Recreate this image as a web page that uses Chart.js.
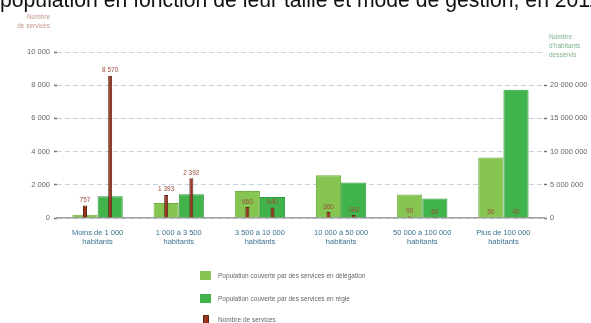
<!DOCTYPE html>
<html>
<head>
<meta charset="utf-8">
<script src="https://cdn.jsdelivr.net/npm/chart.js@4"></script>
<style>
  html, body { margin: 0; padding: 0; background: #fff; }
  #wrap { position: relative; width: 591px; height: 323px; overflow: hidden; font-family: 'Liberation Sans Narrow', 'Liberation Sans', sans-serif; }
  #wrap canvas { position: absolute; left: 0; top: 0; }
  .title { position: absolute; left: 0; top: -12px; font-family: 'Liberation Sans', Arial, sans-serif; font-size: 21.2px; color: #111; white-space: nowrap; }
  .axt { position: absolute; font-size: 6.5px; line-height: 9px; white-space: nowrap; }
  .leg { position: absolute; left: 200px; font-size: 6.5px; color: #666; }
  .leg span.sw { position: absolute; left: 0; top: 0; width: 11px; height: 9px; }
  .leg span.tx { position: absolute; left: 18px; top: 0; white-space: nowrap; line-height: 9px; }
</style>
</head>
<body>
<div id="wrap">
  <canvas id="statChart"></canvas>
  <div class="title">population en fonction de leur taille et mode de gestion, en 2011</div>
  <div class="axt" style="left:10px;top:12px;color:#c49a8c;text-align:right;width:40px">Nombre<br>de services</div>
  <div class="axt" style="left:549px;top:32px;color:#7fb08e">Nombre<br>d'habitants<br>desservis</div>
  <div id="legend"></div>
</div>
<script>
// categories (two-line labels)
var categories = [
  ['Moins de 1 000', 'habitants'],
  ['1 000 à 3 500', 'habitants'],
  ['3 500 à 10 000', 'habitants'],
  ['10 000 à 50 000', 'habitants'],
  ['50 000 à 100 000', 'habitants'],
  ['Plus de 100 000', 'habitants']
];

// population covered (right axis)
var popDelegation = [500000, 2260000, 4080000, 6450000, 3530000, 9130000];
var popRegie = [3280000, 3580000, 3170000, 5350000, 2930000, 19300000];

// number of services (left axis)
var servDelegation = [757, 1393, 660, 360, 90, 50];
var servRegie = [8570, 2392, 640, 180, 60, 40];

var serviceTicks = [0, 2000, 4000, 6000, 8000, 10000];
var popTicks = [0, 5000000, 10000000, 15000000, 20000000];

var legendLabels = [
  'Population couverte par des services en délégation',
  'Population couverte par des services en régie',
  'Nombre de services'
];

var fr = function (v) {
  return String(v).replace(/\B(?=(\d{3})+(?!\d))/g, ' ');
};

var brownFill = '#9c3222';
var brownBorder = '#5c2a18';

var valueLabels = {
  id: 'valueLabels',
  afterDatasetsDraw: function (chart) {
    var ctx = chart.ctx;
    ctx.save();
    ctx.font = '6.5px "Liberation Sans Narrow", sans-serif';
    ctx.fillStyle = '#9a4a3a';
    ctx.textAlign = 'center';
    ctx.textBaseline = 'bottom';
    chart.data.datasets.forEach(function (ds, i) {
      if (ds.yAxisID !== 'y') return;
      chart.getDatasetMeta(i).data.forEach(function (bar, j) {
        ctx.fillText(fr(ds.data[j]), bar.x, bar.y - 2);
      });
    });
    ctx.restore();
  }
};

var ctx = document.getElementById('statChart').getContext('2d');

var chart = new Chart(ctx, {
  type: 'bar',
  data: {
    labels: categories,
    datasets: [
      {
        label: legendLabels[2],
        data: servDelegation,
        yAxisID: 'y',
        stack: 'a',
        order: 0,
        backgroundColor: brownFill,
        borderColor: brownBorder,
        borderWidth: 1,
        categoryPercentage: 0.62,
        barPercentage: 1,
        maxBarThickness: 4
      },
      {
        label: legendLabels[2],
        data: servRegie,
        yAxisID: 'y',
        stack: 'b',
        order: 0,
        backgroundColor: brownFill,
        borderColor: brownBorder,
        borderWidth: 1,
        categoryPercentage: 0.62,
        barPercentage: 1,
        maxBarThickness: 4
      },
      {
        label: legendLabels[0],
        data: popDelegation,
        yAxisID: 'yPop',
        stack: 'a',
        order: 1,
        backgroundColor: '#86c552',
        borderColor: '#6dae40',
        borderWidth: 1,
        categoryPercentage: 0.62,
        barPercentage: 1
      },
      {
        label: legendLabels[1],
        data: popRegie,
        yAxisID: 'yPop',
        stack: 'b',
        order: 1,
        backgroundColor: '#41b34b',
        borderColor: '#2f9a3a',
        borderWidth: 1,
        categoryPercentage: 0.62,
        barPercentage: 1
      }
    ]
  },
  options: {
    responsive: true,
    maintainAspectRatio: false,
    animation: false,
    layout: { padding: { top: 52, bottom: 75, left: 0, right: 0 } },
    plugins: {
      legend: { display: false },
      tooltip: { enabled: false }
    },
    scales: {
      x: {
        grid: { display: false },
        border: { color: '#a0a0a0', width: 1.5 },
        ticks: {
          color: '#3a7290',
          font: { size: 7.5, family: '"Liberation Sans Narrow", sans-serif' },
          padding: 2,
          maxRotation: 0,
          autoSkip: false
        },
        afterFit: function (s) { s.height = 30; }
      },
      y: {
        position: 'left',
        min: 0,
        max: 10000,
        afterBuildTicks: function (s) { s.ticks = serviceTicks.map(function (v) { return { value: v }; }); },
        grid: { color: '#c3d2e0', tickColor: '#777', tickLength: 3, tickWidth: 1.5 },
        border: { display: false, dash: [5, 3] },
        ticks: {
          color: '#666',
          font: { size: 7.5, family: '"Liberation Sans Narrow", sans-serif' },
          padding: 4,
          callback: function (v) { return fr(v); }
        },
        afterFit: function (s) { s.width = 57; }
      },
      yPop: {
        position: 'right',
        min: 0,
        max: 25000000,
        afterBuildTicks: function (s) { s.ticks = popTicks.map(function (v) { return { value: v }; }); },
        grid: { drawOnChartArea: false, tickColor: '#777', tickLength: 3, tickWidth: 1.5 },
        border: { display: false },
        ticks: {
          color: '#666',
          font: { size: 7.5, family: '"Liberation Sans Narrow", sans-serif' },
          padding: 3,
          callback: function (v) { return fr(v); }
        },
        afterFit: function (s) { s.width = 47; }
      }
    }
  },
  plugins: [valueLabels]
});

// legend
var legendColors = ['#86c552', '#41b34b', brownFill];
var legendTops = [271, 294, 315];
var legendHtml = '';
legendLabels.forEach(function (txt, i) {
  var sw = i === 2
    ? '<span class="sw" style="left:3px;width:4px;background:' + legendColors[i] + ';border:1px solid ' + brownBorder + '"></span>'
    : '<span class="sw" style="background:' + legendColors[i] + '"></span>';
  legendHtml += '<div class="leg" style="top:' + legendTops[i] + 'px">' + sw + '<span class="tx">' + txt + '</span></div>';
});
document.getElementById('legend').innerHTML = legendHtml;
</script>
</body>
</html>
